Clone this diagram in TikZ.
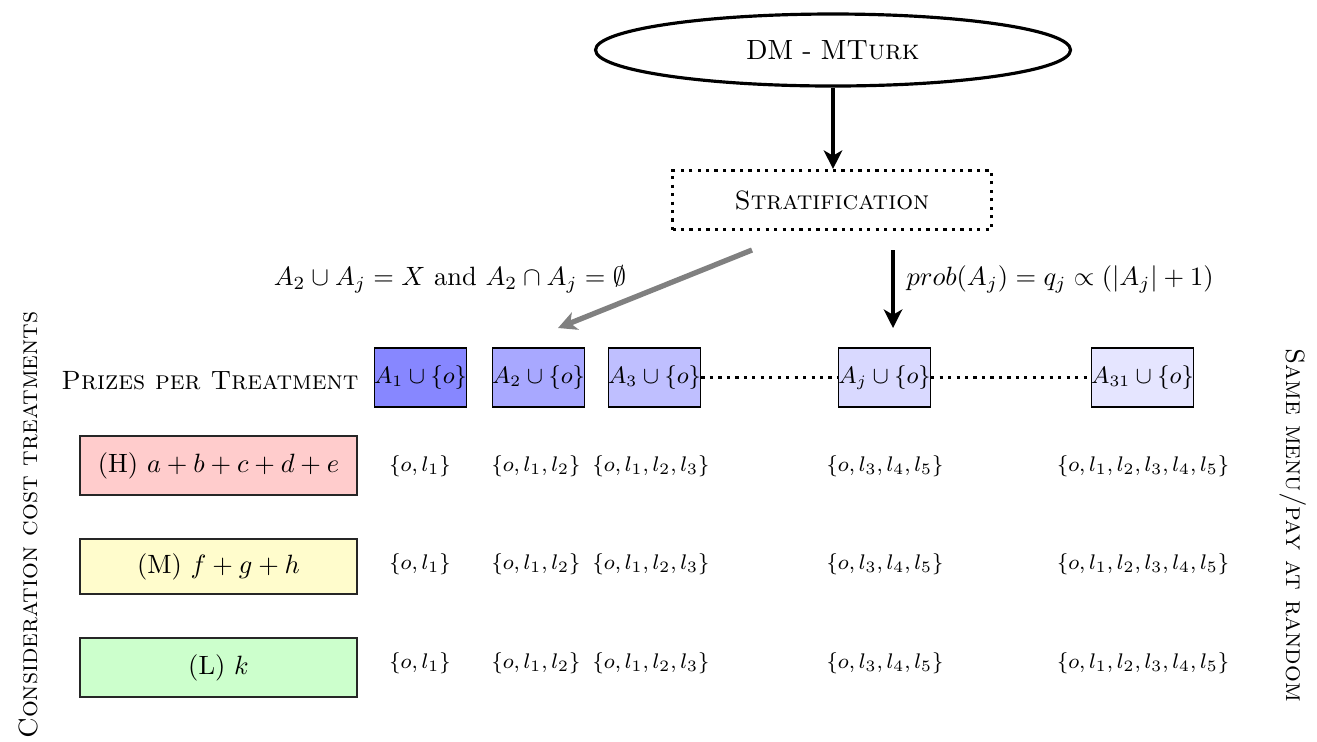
\documentclass[tikz,border=0pt]{standalone}
\usetikzlibrary{shapes.geometric,arrows.meta}
\newcommand{\pxu}{0.378pt}
\begin{document}
\begin{tikzpicture}[x=\pxu,y=-\pxu,
  prize/.style={draw,rectangle,inner sep=0pt,minimum height={59*\pxu},font=\fontsize{9.2}{11}\selectfont},
  treat/.style={draw,rectangle,inner sep=0pt,line width=0.5pt,draw=black!85,minimum width={277*\pxu}},
  entry/.style={inner sep=0pt,font=\fontsize{8.3}{10}\selectfont},
  bigarrow/.style={-{Stealth[length=7pt,width=7pt,inset=2pt]},line width=1.6pt},
  dotline/.style={dotted,line width=1.2pt}]
\useasboundingbox (0,0) rectangle (1317,741);
% top
\node[draw,ellipse,line width=1.2pt,minimum width={475*\pxu},minimum height={72*\pxu},font=\fontsize{10.5}{12}\selectfont] (dm) at (833,50) {DM - M\textsc{Turk}};
\node[draw,rectangle,dotted,line width=1.2pt,minimum width={319*\pxu},minimum height={59*\pxu}] (strat) at (832,200) {\textsc{Stratification}};
\draw[bigarrow] (dm) -- (strat.north -| dm.south);
% arrows to prizes
\coordinate (g1) at (752,250);
\coordinate (g2) at (558,328);
\coordinate (b1) at (893,250);
\coordinate (b2) at (893,328);
\draw[-{Stealth[length=7pt,width=7pt,inset=2pt]},line width=2pt,gray] (g1) -- (g2);
\draw[bigarrow] (b1) -- (b2);
\node (lblL) at (450,279) {$A_2\cup A_j = X$ and $A_2\cap A_j=\emptyset$};
\node[anchor=west,inner sep=0pt] (lblR) at (906,279) {$prob(A_j) = q_j \propto (|A_j|+1)$};
% prizes
\node (ppt) at (210,381) {\textsc{Prizes per Treatment}};
\node[prize,fill=blue!47,minimum width={87*\pxu}] (a1) at (420.5,377.5) {$A_1\cup\{o\}$};
\node[prize,fill=blue!34,minimum width={85*\pxu}] (a2) at (538.5,377.5) {$A_2\cup\{o\}$};
\node[prize,fill=blue!25,minimum width={87*\pxu}] (a3) at (654.5,377.5) {$A_3\cup\{o\}$};
\node[prize,fill=blue!15,minimum width={87*\pxu}] (aj) at (884.5,377.5) {$A_j\cup\{o\}$};
\node[prize,fill=blue!10,minimum width={95*\pxu}] (a31) at (1142.5,377.5) {$A_{31}\cup\{o\}$};
\draw[dotline] (a3) -- (aj);
\draw[dotline] (aj) -- (a31);
% treatments
\node[treat,fill=red!20,minimum height={59*\pxu}] (h) at (218.5,465.5) {(H) $a+b+c+d+e$};
\node[treat,fill=yellow!20,minimum height={55*\pxu}] (m) at (218.5,566.5) {(M) $f+g+h$};
\node[treat,fill=green!20,minimum height={59*\pxu}] (l) at (218.5,667.5) {(L) $k$};
% entries
\foreach \r/\yy in {H/466,M/564,L/663}{
  \node[entry] (e1\r) at (420,\yy) {$\{o,l_1\}$};
  \node[entry] (e2\r) at (536,\yy) {$\{o,l_1,l_2\}$};
  \node[entry] (e3\r) at (651,\yy) {$\{o,l_1,l_2,l_3\}$};
  \node[entry] (ej\r) at (885,\yy) {$\{o,l_3,l_4,l_5\}$};
  \node[entry] (e31\r) at (1143,\yy) {$\{o,l_1,l_2,l_3,l_4,l_5\}$};
}
% side labels
\node[rotate=90] (left) at (28,525) {\textsc{Consideration cost treatments}};
\node[rotate=-90] (right) at (1293,525) {\textsc{Same menu/pay at random}};
\end{tikzpicture}
\end{document}
